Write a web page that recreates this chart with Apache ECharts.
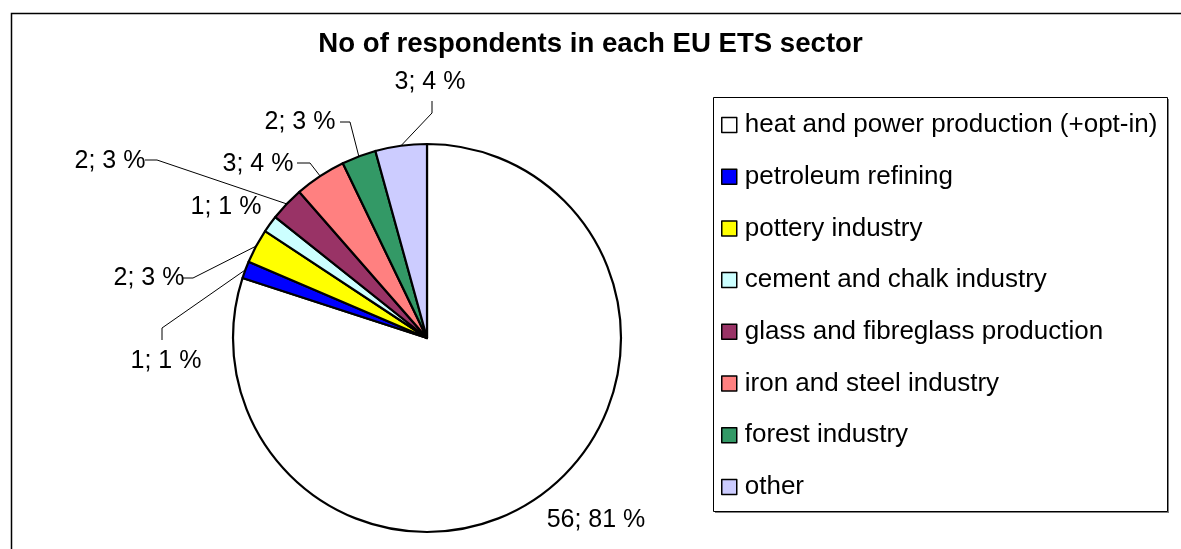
<!DOCTYPE html>
<html>
<head>
<meta charset="utf-8">
<script src="https://cdn.jsdelivr.net/npm/echarts@6/dist/echarts.min.js"></script>
<style>
  html, body { margin: 0; padding: 0; background: #ffffff; }
  #chart { width: 1181px; height: 549px; }
</style>
</head>
<body>
<div id="chart"></div>
<script>
// Sectors of the EU ETS and the number of respondents in each
const sectors = [
  'heat and power production (+opt-in)',
  'petroleum refining',
  'pottery industry',
  'cement and chalk industry',
  'glass and fibreglass production',
  'iron and steel industry',
  'forest industry',
  'other'
];
const respondents = [56, 1, 2, 1, 2, 3, 2, 3];
const shownPercent = [81, 1, 3, 1, 3, 4, 3, 4];
const sliceColors = ['#FFFFFF', '#0000FF', '#FFFF00', '#CCFFFF', '#993366', '#FF8080', '#339966', '#CCCCFF'];
const chartTitle = 'No of respondents in each EU ETS sector';

// Pie geometry (pixels)
const PIE_CX = 427, PIE_CY = 338, PIE_R = 194;
const FONT = '"Liberation Sans", Arial, Helvetica, sans-serif';

// Label anchors and leader-line elbows (label end first, then the bend)
const labelSpots = [
  { at: [596, 520] },
  { at: [166, 361], bend: [[162, 340], [162, 328]] },
  { at: [149, 278], bend: [[183, 278], [193, 278]] },
  { at: [226, 207] },
  { at: [110, 161], bend: [[145, 160], [157, 160]] },
  { at: [258, 164], bend: [[297, 163], [310, 163]] },
  { at: [300, 122], bend: [[340, 122], [350, 122]] },
  { at: [430, 82],  bend: [[432, 101], [432, 113]] }
];

const total = respondents.reduce((a, b) => a + b, 0);
// Point on the outer rim at the middle of a slice (clockwise from 12 o'clock)
function rimPoint(i) {
  let before = 0;
  for (let k = 0; k < i; k++) before += respondents[k];
  const frac = (before + respondents[i] / 2) / total;
  const a = Math.PI / 2 - frac * 2 * Math.PI;
  return [PIE_CX + PIE_R * Math.cos(a), PIE_CY - PIE_R * Math.sin(a)];
}

const pieData = sectors.map((name, i) => ({
  name: name,
  value: respondents[i],
  itemStyle: { color: sliceColors[i] },
  labelLine: { show: !!labelSpots[i].bend }
}));

const chart = echarts.init(document.getElementById('chart'), null, { renderer: 'canvas' });

chart.setOption({
  backgroundColor: '#ffffff',
  animation: false,
  title: {
    text: chartTitle,
    left: 'center',
    top: 30,
    padding: 0,
    textStyle: { fontFamily: FONT, fontSize: 27.6, fontWeight: 'bold', color: '#000000' }
  },
  graphic: [
    {
      type: 'rect', z: -10, silent: true,
      shape: { x: 11.5, y: 13.5, width: 1200, height: 600 },
      style: { fill: '#ffffff', stroke: '#000000', lineWidth: 1.5 }
    },
    {
      type: 'rect', z: -5, silent: true,
      shape: { x: 715, y: 99, width: 454, height: 414 },
      style: { fill: '#808080' }
    },
    {
      type: 'rect', z: -4, silent: true,
      shape: { x: 713.5, y: 97.5, width: 454, height: 414 },
      style: { fill: '#ffffff', stroke: '#000000', lineWidth: 1 }
    }
  ],
  legend: {
    orient: 'vertical',
    left: 721,
    top: 112,
    padding: 0,
    itemWidth: 15,
    itemHeight: 15,
    itemGap: 25.7,
    icon: 'rect',
    selectedMode: false,
    data: sectors,
    itemStyle: { borderColor: '#000000', borderWidth: 1.5 },
    textStyle: { fontFamily: FONT, fontSize: 26, lineHeight: 26, color: '#000000', padding: [0, 0, 0, 3] }
  },
  series: [{
    type: 'pie',
    center: [PIE_CX, PIE_CY],
    radius: PIE_R,
    startAngle: 90,
    clockwise: true,
    avoidLabelOverlap: false,
    data: pieData,
    itemStyle: { borderColor: '#000000', borderWidth: 2.2 },
    emphasis: { disabled: true },
    label: {
      show: true,
      position: 'outside',
      fontFamily: FONT,
      fontSize: 25,
      color: '#000000',
      formatter: p => p.value + '; ' + shownPercent[p.dataIndex] + ' %'
    },
    labelLine: {
      show: true,
      length: 10,
      length2: 10,
      smooth: false,
      lineStyle: { color: '#000000', width: 1 }
    },
    labelLayout: function (params) {
      const i = params.dataIndex;
      const s = labelSpots[i];
      const out = { x: s.at[0], y: s.at[1], align: 'center', verticalAlign: 'middle' };
      if (s.bend) {
        out.labelLinePoints = [rimPoint(i), s.bend[1], s.bend[0]];
      }
      return out;
    }
  }]
});
</script>
</body>
</html>
